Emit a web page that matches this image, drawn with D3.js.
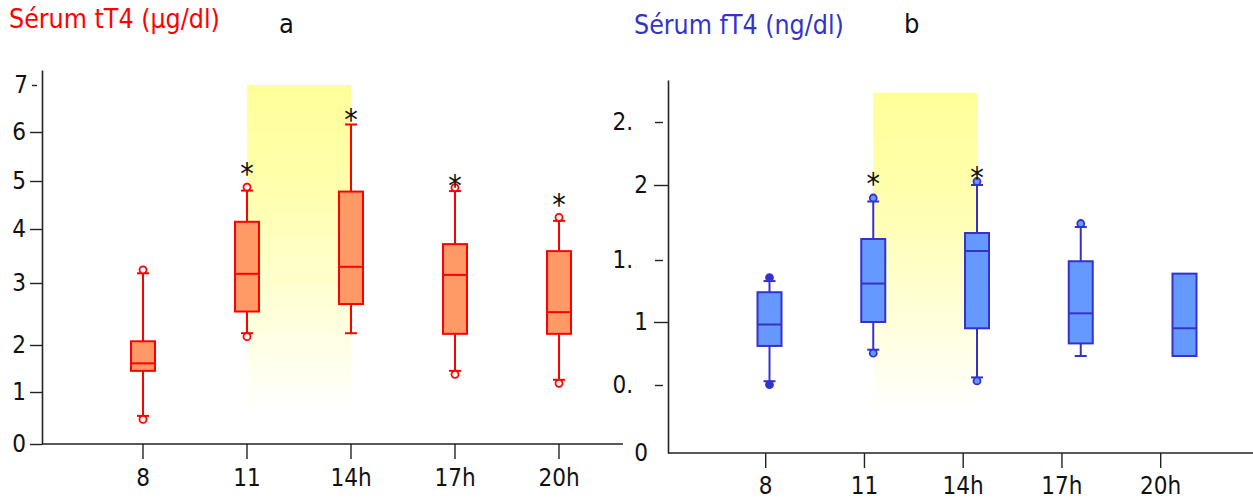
<!DOCTYPE html>
<html><head><meta charset="utf-8">
<script src="https://cdn.jsdelivr.net/npm/d3@7"></script>
<style>
body{margin:0;background:#fff}
svg{display:block}
text{font-family:"DejaVu Sans Condensed","DejaVu Sans",sans-serif}
</style>
</head><body>
<svg id="c" width="1253" height="500"></svg>
<script>
// ---------- data ----------
const hours = ["8", "11", "14h", "17h", "20h"];

// panel a : serum tT4 (µg/dl)
const tT4Min = [0.54, 2.19, 2.19, 1.45, 1.26];
const tT4Q1  = [1.45, 2.54, 2.66, 2.18, 2.18];
const tT4Med = [1.61, 3.17, 3.30, 3.15, 2.53];
const tT4Q3  = [2.06, 4.15, 4.78, 3.72, 3.59];
const tT4Max = [3.18, 4.80, 6.16, 4.79, 4.17];
const tT4DotTop    = [true, true, false, true, true];
const tT4DotBottom = [true, true, false, true, true];
const tT4Star = [null, 5.29, 6.40, 5.04, 4.65];
const tT4Ticks = [0, 1, 2, 3, 4, 5, 6, 7];
const tT4TickLabels = ["0", "1", "2", "3", "4", "5", "6", "7"];

// panel b : serum fT4 (ng/dl)
const fT4Min = [0.53, 0.78, 0.56, 0.73, null];
const fT4Q1  = [0.81, 1.00, 0.95, 0.83, 0.73];
const fT4Med = [0.98, 1.31, 1.56, 1.07, 0.95];
const fT4Q3  = [1.24, 1.64, 1.68, 1.49, 1.39];
const fT4Max = [1.33, 1.89, 2.00, 1.72, null];
const fT4DotTop    = [true, true, true, true, false];
const fT4DotBottom = [true, true, true, false, false];
const fT4Star = [null, 2.06, 2.11, null, null];
const fT4Ticks = [0, 0.5, 1, 1.5, 2, 2.5];
const fT4TickLabels = ["0", "0.", "1", "1.", "2", "2."];

const highlight = ["11", "14h"];

// ---------- setup ----------
const svg = d3.select("#c");
const defs = svg.append("defs");
const grad = defs.append("linearGradient").attr("id", "yel")
  .attr("x1", 0).attr("y1", 0).attr("x2", 0).attr("y2", 1);
grad.append("stop").attr("offset", "0%").attr("stop-color", "#ffff99");
grad.append("stop").attr("offset", "35%").attr("stop-color", "#ffffb0");
grad.append("stop").attr("offset", "100%").attr("stop-color", "#ffffff");

// scales (the original axes are not evenly spaced -> piecewise linear)
const yA = d3.scaleLinear()
  .domain([0, 1, 2, 3, 4, 5, 6, 7, 7.32])
  .range([444, 392, 345, 283, 229, 181, 132, 85, 70]);
const xA = d3.scalePoint().domain(hours).range([143, 559]);
const xAbox = xA;

const yB = d3.scaleLinear()
  .domain([0, 0.5, 1, 1.5, 2, 2.5, 2.83])
  .range([453, 385, 322, 260, 185, 122, 80]);
const xB = d3.scalePoint().domain(hours).range([765.7, 1160.7]);
const xBbox = d3.scalePoint().domain(hours).range([769.5, 1184.5]);

// ---------- highlight bands ----------
function band(xs, ys, top, bottom) {
  svg.append("rect")
    .attr("x", xs(highlight[0]))
    .attr("width", xs(highlight[1]) - xs(highlight[0]))
    .attr("y", ys(top))
    .attr("height", ys(bottom) - ys(top))
    .attr("fill", "url(#yel)");
}
band(xAbox, yA, 7, 0.6);
band(xBbox, yB, 2.73, 0.28);

// ---------- axes ----------
function xAxis(xs, y0, xStart, xEnd, labelY) {
  const g = svg.append("g");
  g.append("line").attr("x1", xStart).attr("x2", xEnd).attr("y1", y0).attr("y2", y0)
    .attr("stroke", "#222").attr("stroke-width", 1.6);
  hours.forEach(h => {
    g.append("line").attr("x1", xs(h)).attr("x2", xs(h)).attr("y1", y0).attr("y2", y0 + 15)
      .attr("stroke", "#222").attr("stroke-width", 1.4);
    g.append("text").attr("x", xs(h)).attr("y", labelY).attr("text-anchor", "middle")
      .attr("font-size", 24).attr("fill", "#111").text(h);
  });
}
xAxis(xA, 444, 42, 623, 486);
xAxis(xB, 453, 668, 1253, 494);

// y axis a
{
  const g = svg.append("g").attr("transform", "translate(42,0)");
  g.call(d3.axisLeft(yA).tickValues(tT4Ticks).tickSize(12).tickSizeOuter(0).tickPadding(4)
    .tickFormat((d, i) => tT4TickLabels[i]));
  g.select(".domain").attr("stroke", "#222").attr("stroke-width", 1.6);
  g.selectAll(".tick line").attr("stroke", "#222").attr("stroke-width", 1.4);
  g.selectAll(".tick text").attr("font-size", 24).attr("fill", "#111")
    .attr("font-family", "DejaVu Sans Condensed");
  g.selectAll(".tick").filter(d => d === 7).select("line").attr("x1", -5).attr("x2", -10);
  g.selectAll(".tick").filter(d => d === 7).select("text").attr("x", -14);
}
// y axis b
{
  const g = svg.append("g").attr("transform", "translate(668,0)");
  g.call(d3.axisLeft(yB).tickValues(fT4Ticks).tickSize(14).tickSizeOuter(0).tickPadding(6)
    .tickFormat((d, i) => fT4TickLabels[i]));
  g.select(".domain").attr("stroke", "#222").attr("stroke-width", 1.6);
  g.selectAll(".tick line").attr("stroke", "#222").attr("stroke-width", 1.4);
  g.selectAll(".tick text").attr("font-size", 24).attr("fill", "#111")
    .attr("font-family", "DejaVu Sans Condensed");
  const half = g.selectAll(".tick").filter(d => d % 1 !== 0);
  half.select("line").attr("x1", -5).attr("x2", -13);
  half.select("text").attr("x", -35);
  g.selectAll(".tick").filter(d => d === 0).select("line").remove();
}

// ---------- boxes ----------
function boxes(xs, ys, mn, q1, med, q3, mx, dotTop, dotBot, stars, st) {
  const g = svg.append("g");
  const bw = 24, cw = 12, r = 3.5;
  hours.forEach((h, i) => {
    const cx = xs(h);
    if (mx[i] != null) {
      g.append("line").attr("x1", cx).attr("x2", cx).attr("y1", ys(q3[i])).attr("y2", ys(mx[i]))
        .attr("stroke", st.stroke).attr("stroke-width", 2);
      g.append("line").attr("x1", cx - cw / 2).attr("x2", cx + cw / 2).attr("y1", ys(mx[i])).attr("y2", ys(mx[i]))
        .attr("stroke", st.stroke).attr("stroke-width", 2);
      if (dotTop[i]) g.append("circle").attr("cx", cx).attr("cy", ys(mx[i]) - r).attr("r", r)
        .attr("fill", st.dot(i)).attr("stroke", st.stroke).attr("stroke-width", 1.8);
    }
    if (mn[i] != null) {
      g.append("line").attr("x1", cx).attr("x2", cx).attr("y1", ys(q1[i])).attr("y2", ys(mn[i]))
        .attr("stroke", st.stroke).attr("stroke-width", 2);
      g.append("line").attr("x1", cx - cw / 2).attr("x2", cx + cw / 2).attr("y1", ys(mn[i])).attr("y2", ys(mn[i]))
        .attr("stroke", st.stroke).attr("stroke-width", 2);
      if (dotBot[i]) g.append("circle").attr("cx", cx).attr("cy", ys(mn[i]) + r).attr("r", r)
        .attr("fill", st.dot(i)).attr("stroke", st.stroke).attr("stroke-width", 1.8);
    }
    g.append("rect").attr("x", cx - bw / 2).attr("width", bw)
      .attr("y", ys(q3[i])).attr("height", ys(q1[i]) - ys(q3[i]))
      .attr("fill", st.fill).attr("stroke", st.stroke).attr("stroke-width", 2);
    g.append("line").attr("x1", cx - bw / 2).attr("x2", cx + bw / 2)
      .attr("y1", ys(med[i])).attr("y2", ys(med[i]))
      .attr("stroke", st.stroke).attr("stroke-width", 2);
    if (stars[i] != null) {
      g.append("text").attr("x", cx).attr("y", ys(stars[i]) + 17).attr("text-anchor", "middle")
        .attr("font-size", 30).attr("fill", "#111").attr("font-family", "DejaVu Sans").text("*");
    }
  });
}
boxes(xAbox, yA, tT4Min, tT4Q1, tT4Med, tT4Q3, tT4Max, tT4DotTop, tT4DotBottom, tT4Star,
  { fill: "#ff9966", stroke: "#ff0000", dot: () => "#ffffff" });
boxes(xBbox, yB, fT4Min, fT4Q1, fT4Med, fT4Q3, fT4Max, fT4DotTop, fT4DotBottom, fT4Star,
  { fill: "#6699ff", stroke: "#3333cc", dot: i => i === 0 ? "#3333cc" : "#6699ff" });

// ---------- titles ----------
svg.append("text").attr("x", 9).attr("y", 28).attr("font-size", 26.5).attr("fill", "#ff0000")
  .text("Sérum tT4 (µg/dl)");
svg.append("text").attr("x", 634).attr("y", 34).attr("font-size", 26.5).attr("fill", "#3333cc")
  .text("Sérum fT4 (ng/dl)");
svg.append("text").attr("x", 279).attr("y", 33).attr("font-size", 27).attr("fill", "#111")
  .attr("font-family", "Liberation Serif").text("a");
svg.append("text").attr("x", 904).attr("y", 33).attr("font-size", 27).attr("fill", "#111")
  .attr("font-family", "Liberation Serif").text("b");
</script>
</body></html>
